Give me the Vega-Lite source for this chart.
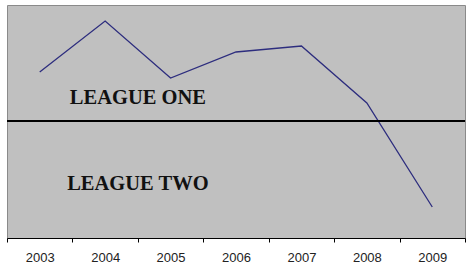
{
  "$schema": "https://vega.github.io/schema/vega-lite/v6.json",
  "width": 458,
  "height": 233,
  "autosize": {"type": "none"},
  "padding": {"left": 7, "top": 5, "right": 5, "bottom": 29},
  "background": "white",
  "config": {
    "view": {"fill": "#c0c0c0", "stroke": "#8a8a8a", "strokeWidth": 1}
  },
  "datasets": {
    "line": [
      {"year": "2003", "value": 166},
      {"year": "2004", "value": 217},
      {"year": "2005", "value": 160},
      {"year": "2006", "value": 186},
      {"year": "2007", "value": 192},
      {"year": "2008", "value": 135},
      {"year": "2009", "value": 31}
    ],
    "divider": [{"value": 117}],
    "labels": [
      {"year": "2004", "value": 140, "label": "LEAGUE ONE"},
      {"year": "2004", "value": 54, "label": "LEAGUE TWO"}
    ]
  },
  "layer": [
    {
      "data": {"name": "line"},
      "mark": {"type": "line", "color": "#2d2d7e", "strokeWidth": 1.3},
      "encoding": {
        "x": {
          "field": "year",
          "type": "ordinal",
          "scale": {"type": "band", "paddingInner": 0, "paddingOuter": 0},
          "axis": {
            "title": null,
            "labelAngle": 0,
            "tickBand": "extent",
            "domainColor": "black",
            "domainWidth": 1,
            "tickColor": "black",
            "tickSize": 4,
            "labelPadding": 9,
            "labelFont": "Liberation Sans",
            "labelFontSize": 13,
            "labelColor": "#222222",
            "grid": false
          }
        },
        "y": {
          "field": "value",
          "type": "quantitative",
          "scale": {"domain": [0, 233], "nice": false, "zero": false},
          "axis": null
        }
      }
    },
    {
      "data": {"name": "divider"},
      "mark": {"type": "rule", "color": "black", "strokeWidth": 2},
      "encoding": {
        "y": {"field": "value", "type": "quantitative"}
      }
    },
    {
      "data": {"name": "labels"},
      "mark": {
        "type": "text",
        "font": "Liberation Serif",
        "fontWeight": "bold",
        "fontSize": 20.5,
        "color": "#111111",
        "align": "center",
        "baseline": "middle",
        "dx": 0
      },
      "encoding": {
        "x": {"field": "year", "type": "ordinal", "bandPosition": 1},
        "y": {"field": "value", "type": "quantitative"},
        "text": {"field": "label"}
      }
    }
  ]
}
